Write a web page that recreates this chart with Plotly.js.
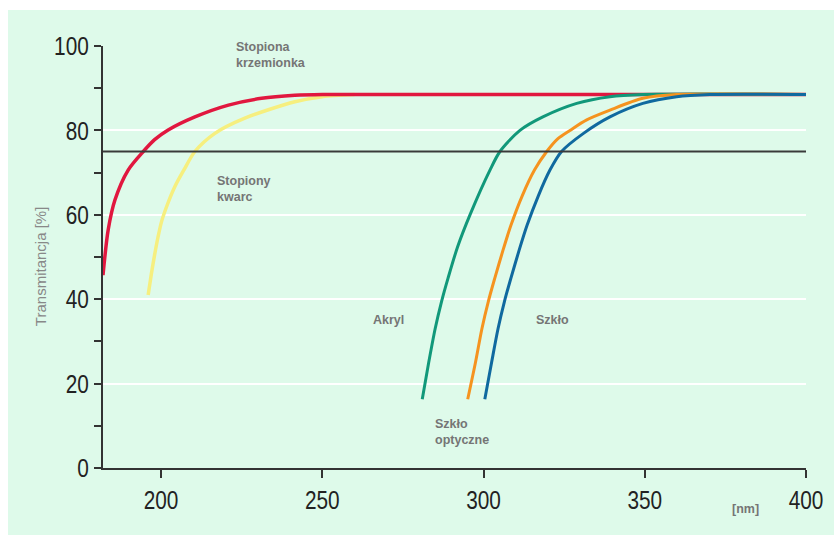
<!DOCTYPE html>
<html>
<head>
<meta charset="utf-8">
<script src="https://cdn.plot.ly/plotly-3.0.1.min.js"></script>
<style>html,body{margin:0;padding:0;background:#fff;}</style>
</head>
<body>
<div id="chart" style="width:834px;height:535px;"></div>
<script>
// Stopiona krzemionka (fused silica)
const silicaX = [182, 183.6, 185.7, 189.8, 194.5, 198, 202.2, 210.5, 220.9, 231.2, 241.5, 250, 300, 350, 400];
const silicaY = [45.7, 56.4, 63.5, 70.6, 75, 77.8, 80.1, 83.2, 86, 87.6, 88.3, 88.5, 88.5, 88.5, 88.5];
// Stopiony kwarc (fused quartz)
const quartzX = [196, 197, 198, 199, 200.2, 202, 204.3, 207, 210.5, 216.7, 226, 241.5, 250, 260];
const quartzY = [41, 46, 50.5, 54.5, 58.5, 62.5, 66.7, 70.5, 75, 79.3, 82.9, 86.8, 88, 88.5];
// Akryl
const acrylX = [281, 283, 285, 287, 289, 292, 295.8, 302, 305.1, 311.3, 318.4, 328.9, 339.2, 349.4, 400];
const acrylY = [16.3, 25, 33, 39.5, 45, 52.5, 60, 70.6, 75, 80, 83.2, 86.4, 88, 88.5, 88.5];
// Szkło optyczne
const opticalX = [295.1, 297.5, 299.5, 301.5, 303.5, 306, 308.5, 312, 315.8, 319.6, 323, 326.8, 332, 339.2, 349.4, 359.9, 400];
const opticalY = [16.3, 25, 33, 39.5, 45, 51.5, 57.5, 64.5, 70.6, 75, 78, 80, 82.5, 84.8, 87.6, 88.5, 88.5];
// Szkło
const glassX = [300.4, 302.5, 304.5, 306.5, 308.5, 311, 313.5, 317, 320.6, 324.2, 331, 339.2, 349.4, 359.9, 370.2, 400];
const glassY = [16.3, 25, 33, 39.5, 45, 51.5, 57.5, 64.5, 70.6, 75, 79.3, 83.2, 86.4, 88, 88.5, 88.5];

const threshold = 75;
const xTicks = [200, 250, 300, 350, 400];
const yTicks = [0, 20, 40, 60, 80, 100];
const xRange = [182, 400];
const yRange = [0, 100];

const BG = '#defaea';
const tickFont = {family: '"Liberation Sans", Arial, sans-serif', size: 26, color: '#222'};
const labelFont = {family: 'Arial, "Liberation Sans", sans-serif', size: 12.5, color: '#757575', weight: 'bold'};

function line(x, y, color, w) {
  return {x: x, y: y, type: 'scatter', mode: 'lines', line: {color: color, width: w, shape: 'spline', smoothing: 0.8}, hoverinfo: 'skip', showlegend: false};
}

const data = [
  line(quartzX, quartzY, '#f6ef7f', 3.5),
  line(silicaX, silicaY, '#e1173f', 3.5),
  line(acrylX, acrylY, '#11987a', 3),
  line(opticalX, opticalY, '#f5931f', 3),
  line(glassX, glassY, '#10699f', 3)
];

function ann(text, x, y, extra) {
  return Object.assign({text: text, x: x, y: y, xref: 'x', yref: 'y', showarrow: false, xanchor: 'left', yanchor: 'middle', align: 'left', font: labelFont}, extra || {});
}

const layout = {
  width: 834, height: 535,
  margin: {l: 103, r: 28, t: 46, b: 67},
  paper_bgcolor: '#ffffff',
  plot_bgcolor: 'rgba(0,0,0,0)',
  showlegend: false,
  xaxis: {
    range: xRange, tickvals: xTicks, ticktext: xTicks.map(String),
    showgrid: false, zeroline: false, showline: true, linecolor: '#333', linewidth: 2,
    ticks: 'outside', ticklen: 8, tickwidth: 2, tickcolor: '#333', tickfont: tickFont,
    fixedrange: true
  },
  yaxis: {
    range: yRange, tickvals: yTicks, ticktext: yTicks.map(String),
    showgrid: true, gridcolor: '#ffffff', gridwidth: 2, zeroline: false,
    showline: true, linecolor: '#333', linewidth: 2,
    ticks: 'outside', ticklen: 7, tickwidth: 2, tickcolor: '#333', tickfont: tickFont,
    minor: {dtick: 10, tick0: 0, ticks: 'outside', ticklen: 7, tickwidth: 2, tickcolor: '#333', showgrid: false},
    fixedrange: true
  },
  shapes: [
    {type: 'rect', xref: 'paper', yref: 'paper', x0: -0.1351, x1: 1.05, y0: -0.2, y1: 1.0853, fillcolor: BG, line: {width: 0}, layer: 'below'},
    {type: 'line', xref: 'paper', yref: 'y', x0: 0, x1: 1, y0: threshold, y1: threshold, line: {color: '#3a3a3a', width: 2}, layer: 'above'}
  ],
  annotations: [
    ann('Stopiona<br>krzemionka', 221, 97.9, {bgcolor: BG, borderpad: 6}),
    ann('Stopiony<br>kwarc', 216.7, 66.1),
    ann('Akryl', 265.1, 35.1),
    ann('Szkło', 315.6, 35.1),
    ann('Szkło<br>optyczne', 284.3, 8.5),
    {text: '[nm]', x: 0.892, y: -0.097, xref: 'paper', yref: 'paper', showarrow: false, xanchor: 'left', yanchor: 'middle', font: labelFont},
    {text: 'Transmitancja [%]', x: -0.0896, y: 0.476, xref: 'paper', yref: 'paper', showarrow: false, textangle: -90, xanchor: 'center', yanchor: 'middle',
     font: {family: 'Arial, "Liberation Sans", sans-serif', size: 15, color: '#888'}}
  ]
};

Plotly.newPlot('chart', data, layout, {displayModeBar: false, staticPlot: true}).then(function (gd) {
  // condense the tick labels to mimic the narrow typeface of the original
  gd.querySelectorAll('.xtick text, .ytick text').forEach(function (t) {
    const w = t.getComputedTextLength();
    t.setAttribute('textLength', (w * 0.8).toFixed(1));
    t.setAttribute('lengthAdjust', 'spacingAndGlyphs');
  });
});
</script>
</body>
</html>
